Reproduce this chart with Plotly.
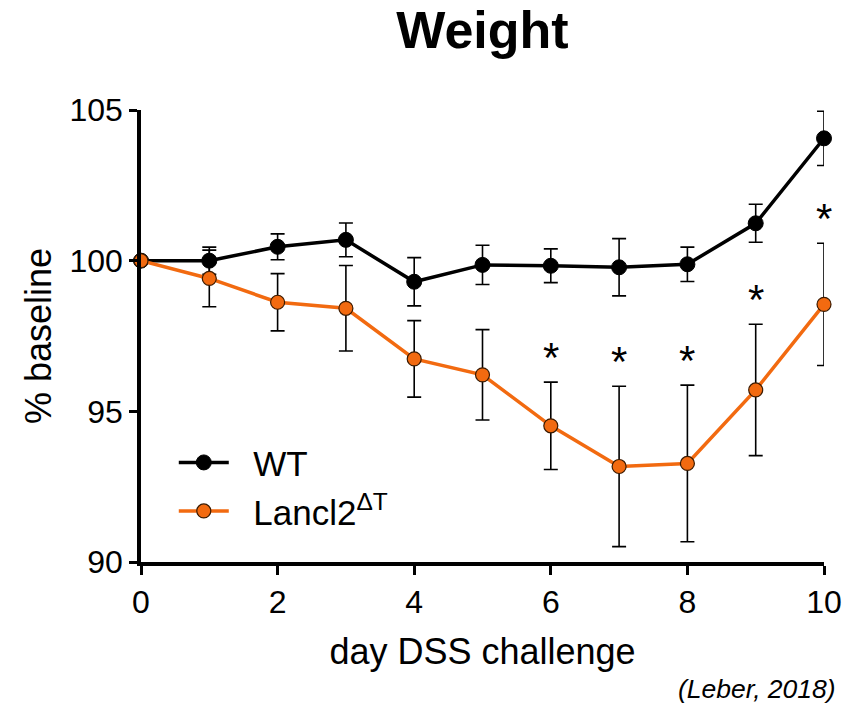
import plotly.graph_objects as go

days = [0, 1, 2, 3, 4, 5, 6, 7, 8, 9, 10]
wt = [100.0, 100.0, 100.46, 100.69, 99.30, 99.86, 99.83, 99.78, 99.88, 101.24, 104.06]
wt_err = [0.0, 0.45, 0.43, 0.56, 0.80, 0.65, 0.56, 0.95, 0.57, 0.63, 0.90]
lanc = [100.0, 99.41, 98.62, 98.42, 96.74, 96.21, 94.52, 93.17, 93.27, 95.71, 98.55]
lanc_err = [0.0, 0.94, 0.95, 1.42, 1.27, 1.50, 1.45, 2.66, 2.60, 2.18, 2.03]
star_days = [6, 7, 8, 9, 10]

ORANGE = "#F26A10"
FONT = "Liberation Sans, Arial, sans-serif"
NB = "\u00a0\u00a0"

fig = go.Figure()
fig.add_trace(go.Scatter(
    x=days, y=wt, name=NB + "WT", mode="lines+markers",
    line=dict(color="black", width=3.5),
    marker=dict(color="black", size=15, line=dict(color="black", width=1)),
    error_y=dict(type="data", array=wt_err, color="black", thickness=1.6, width=7),
    cliponaxis=False,
))
fig.add_trace(go.Scatter(
    x=days, y=lanc, name=NB + "Lancl2<sup>ΔT</sup>", mode="lines+markers",
    line=dict(color=ORANGE, width=3.5),
    marker=dict(color=ORANGE, size=14, line=dict(color="#3a1a00", width=1.2)),
    error_y=dict(type="data", array=lanc_err, color="black", thickness=1.6, width=7),
    cliponaxis=False,
))

for d in star_days:
    i = days.index(d)
    fig.add_annotation(x=d, y=lanc[i] + lanc_err[i], text="*", showarrow=False,
                       yanchor="bottom", yshift=-1,
                       font=dict(family=FONT, size=42, color="black"))

fig.add_annotation(x=1.0, y=0, xref="paper", yref="paper", xanchor="right", yanchor="top",
                   xshift=14, yshift=-110, text="<i>(Leber, 2018)</i>", showarrow=False,
                   font=dict(family=FONT, size=26.5, color="black"))

fig.update_layout(
    width=843, height=709,
    margin=dict(l=141, r=19, t=110, b=147),
    paper_bgcolor="white", plot_bgcolor="white",
    title=dict(text="<b>Weight</b>", x=0.5, xanchor="center", y=0.984, yanchor="top",
               xref="paper",
               font=dict(family=FONT, size=52, color="black")),
    font=dict(family=FONT, color="black"),
    showlegend=True,
    legend=dict(x=0.048, y=0.285, xanchor="left", yanchor="top",
                font=dict(family=FONT, size=35, color="black"),
                bgcolor="rgba(0,0,0,0)", tracegroupgap=0, itemwidth=50),
    xaxis=dict(range=[0, 10], tickvals=[0, 2, 4, 6, 8, 10], showgrid=False, zeroline=False,
               automargin=False,
               showline=True, linecolor="black", linewidth=3.5,
               ticks="outside", ticklen=9, tickwidth=3, tickcolor="black",
               tickfont=dict(family=FONT, size=32),
               title=dict(text="day DSS challenge", font=dict(family=FONT, size=36), standoff=21)),
    yaxis=dict(range=[90, 105], tickvals=[90, 95, 100, 105], showgrid=False, zeroline=False,
               automargin=False,
               showline=True, linecolor="black", linewidth=3.5,
               ticks="outside", ticklen=8, tickwidth=3, tickcolor="black",
               tickfont=dict(family=FONT, size=32),
               title=dict(text="% baseline", font=dict(family=FONT, size=36), standoff=8)),
)

fig.write_html("out.html")
